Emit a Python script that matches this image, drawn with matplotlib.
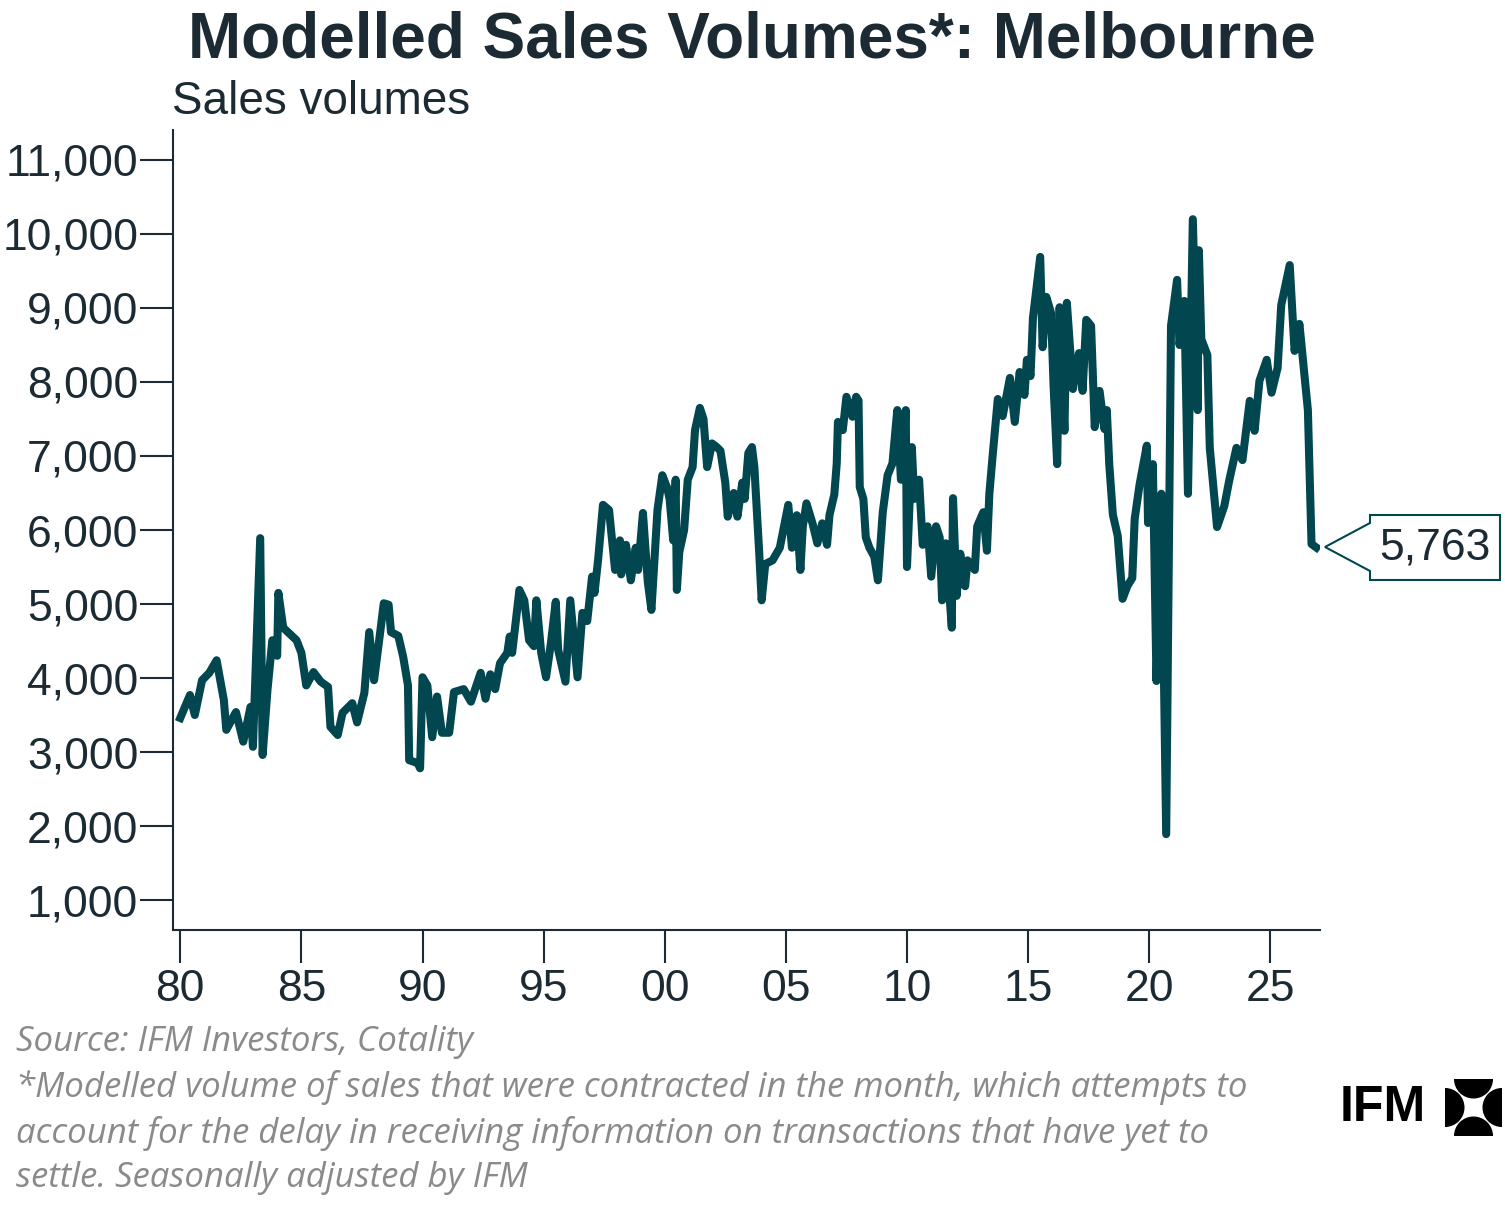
import matplotlib.pyplot as plt
from matplotlib.patches import Polygon, Wedge

# (decimal year, sales volume)
years = [1980.0, 1980.4, 1980.6, 1980.9, 1981.2, 1981.5, 1981.8, 1981.9, 1982.3, 1982.6,
         1982.9, 1983.0, 1983.3, 1983.4, 1983.6, 1983.8, 1984.0, 1984.05, 1984.25, 1984.8,
         1985.0, 1985.2, 1985.5, 1985.8, 1986.1, 1986.2, 1986.5, 1986.7, 1987.1, 1987.3,
         1987.6, 1987.8, 1988.0, 1988.3, 1988.4, 1988.6, 1988.7, 1989.0, 1989.2, 1989.4,
         1989.45, 1989.8, 1989.9, 1990.0, 1990.2, 1990.4, 1990.6, 1990.7, 1990.8, 1991.1,
         1991.3, 1991.7, 1992.0, 1992.4, 1992.6, 1992.8, 1993.0, 1993.2, 1993.5, 1993.6,
         1993.7, 1994.0, 1994.2, 1994.4, 1994.6, 1994.7, 1994.9, 1995.1, 1995.3, 1995.5,
         1995.6, 1995.9, 1996.1, 1996.4, 1996.6, 1996.8, 1997.0, 1997.1, 1997.25, 1997.45,
         1997.7, 1997.95, 1998.15, 1998.2, 1998.4, 1998.6, 1998.8, 1998.9, 1999.1, 1999.3,
         1999.45, 1999.7, 1999.9, 2000.1, 2000.2, 2000.35, 2000.45, 2000.5, 2000.6, 2000.8,
         2000.95, 2001.15, 2001.25, 2001.45, 2001.6, 2001.75, 2001.95, 2002.15, 2002.3, 2002.5,
         2002.6, 2002.85, 2003.0, 2003.2, 2003.3, 2003.45, 2003.6, 2003.7, 2003.9, 2004.0,
         2004.15, 2004.45, 2004.75, 2004.95, 2005.1, 2005.25, 2005.45, 2005.6, 2005.7, 2005.85,
         2006.1, 2006.3, 2006.5, 2006.7, 2006.8, 2007.0, 2007.1, 2007.15, 2007.35, 2007.5,
         2007.75, 2007.9, 2008.0, 2008.05, 2008.2, 2008.3, 2008.45, 2008.65, 2008.8, 2009.0,
         2009.2, 2009.4, 2009.6, 2009.75, 2009.95, 2010.0, 2010.2, 2010.3, 2010.5, 2010.65,
         2010.85, 2011.0, 2011.2, 2011.35, 2011.45, 2011.6, 2011.85, 2011.9, 2012.05, 2012.2,
         2012.4, 2012.5, 2012.8, 2012.9, 2013.15, 2013.3, 2013.4, 2013.55, 2013.75, 2013.95,
         2014.25, 2014.45, 2014.65, 2014.85, 2014.95, 2015.1, 2015.2, 2015.5, 2015.6, 2015.75,
         2015.95, 2016.05, 2016.2, 2016.3, 2016.5, 2016.6, 2016.85, 2017.1, 2017.25, 2017.4,
         2017.6, 2017.75, 2017.95, 2018.15, 2018.25, 2018.35, 2018.5, 2018.7, 2018.9, 2019.1,
         2019.3, 2019.4, 2019.6, 2019.9, 2019.95, 2020.15, 2020.3, 2020.5, 2020.7, 2020.9,
         2021.15, 2021.25, 2021.45, 2021.6, 2021.8, 2022.0, 2022.05, 2022.15, 2022.4, 2022.5,
         2022.8, 2023.1, 2023.3, 2023.6, 2023.85, 2024.15, 2024.35, 2024.55, 2024.85, 2025.05,
         2025.3, 2025.45, 2025.8, 2026.0, 2026.2, 2026.55, 2026.7, 2026.9]
sales = [3460, 3770, 3500, 3970, 4070, 4240, 3700, 3300, 3540, 3140,
         3610, 3070, 5890, 2960, 3840, 4510, 4300, 5150, 4680, 4510,
         4340, 3900, 4080, 3950, 3880, 3340, 3230, 3530, 3660, 3400,
         3800, 4620, 3970, 4740, 5010, 4990, 4620, 4570, 4290, 3900,
         2890, 2850, 2780, 4010, 3900, 3200, 3750, 3500, 3260, 3260,
         3810, 3850, 3680, 4070, 3720, 4050, 3850, 4200, 4340, 4560,
         4340, 5190, 5050, 4510, 4430, 5050, 4340, 4010, 4470, 5030,
         4380, 3950, 5050, 4010, 4880, 4770, 5370, 5150, 5600, 6340,
         6270, 5460, 5860, 5400, 5800, 5320, 5760, 5460, 6230, 5300,
         4920, 6270, 6740, 6570, 6420, 5860, 6680, 5190, 5700, 6000,
         6680, 6850, 7350, 7650, 7500, 6850, 7170, 7120, 7070, 6640,
         6180, 6500, 6180, 6640, 6420, 7040, 7120, 6850, 5690, 5050,
         5540, 5590, 5760, 6090, 6340, 5760, 6200, 5460, 6050, 6360,
         6090, 5820, 6090, 5800, 6200, 6480, 6900, 7460, 7350, 7800,
         7530, 7800, 7750, 6580, 6420, 5900, 5760, 5640, 5320, 6240,
         6740, 6900, 7620, 6680, 7620, 5500, 7120, 6420, 6680, 5800,
         6050, 5370, 6050, 5900, 5050, 5820, 4680, 6430, 5110, 5680,
         5240, 5590, 5460, 6050, 6240, 5720, 6490, 7055, 7770, 7540,
         8055, 7460, 8135, 7825, 8300, 8080, 8865, 9690, 8470, 9150,
         8930, 7960, 6890, 9010, 7340, 9070, 7905, 8390, 7880, 8840,
         8760, 7390, 7880, 7365, 7620, 6890, 6205, 5920, 5070, 5245,
         5350, 6150, 6610, 7140, 6095, 6890, 3960, 6490, 1890, 8760,
         9380, 8500, 9095, 6490, 10200, 7620, 9780, 8580, 8365, 7110,
         6040, 6325, 6665, 7110, 6945, 7745, 7340, 8015, 8300, 7855,
         8190, 9040, 9580, 8420, 8785, 7620, 5810, 5763]
x_ticks = [1980, 1985, 1990, 1995, 2000, 2005, 2010, 2015, 2020, 2025]
x_labels = ["80", "85", "90", "95", "00", "05", "10", "15", "20", "25"]
y_ticks = list(range(1000, 11001, 1000))

LINE = "#02464f"
TEXT = "#1c2b33"

plt.rcParams["font.family"] = ["Liberation Sans", "DejaVu Sans"]
fig = plt.figure(figsize=(15.05, 12.14), dpi=100)
W, H = 1505, 1214
ax = fig.add_axes([173 / W, 1 - 930 / H, (1320 - 173) / W, (930 - 130) / H])

ax.plot(years, sales, color=LINE, lw=5.8, solid_joinstyle="round")
ax.set_xlim(1979.7, 2027.05)
ax.set_ylim(595, 11405)
ax.set_xticks(x_ticks, x_labels)
ax.set_yticks(y_ticks, [f"{v:,}" for v in y_ticks])
for s in ("top", "right"):
    ax.spines[s].set_visible(False)
for s in ("left", "bottom"):
    ax.spines[s].set_color(TEXT)
    ax.spines[s].set_linewidth(1.5)
ax.tick_params(axis="both", colors=TEXT, labelsize=32, width=1.5, length=24)
ax.tick_params(axis="y", pad=1)
ax.tick_params(axis="x", pad=4)

fig.text(752 / W, 1 - 40 / H, "Modelled Sales Volumes*: Melbourne", ha="center", va="center",
         fontsize=46, fontweight="bold", color=TEXT)
fig.text(172 / W, 1 - 102 / H, "Sales volumes", ha="left", va="center", fontsize=33, color=TEXT)

# callout for latest value
pts = [(1325, 547), (1370, 523), (1370, 515), (1500, 515), (1500, 580), (1370, 580), (1370, 571)]
fig.patches.append(Polygon([(px / W, 1 - py / H) for px, py in pts], closed=True,
                           transform=fig.transFigure, facecolor="white", edgecolor=LINE, lw=1.5))
fig.text(1435 / W, 1 - 548 / H, f"{sales[-1]:,}", ha="center", va="center", fontsize=32, color=TEXT)

notes = ("Source: IFM Investors, Cotality\n"
         "*Modelled volume of sales that were contracted in the month, which attempts to\n"
         "account for the delay in receiving information on transactions that have yet to\n"
         "settle. Seasonally adjusted by IFM")
fig.text(16 / W, 1 - 1025 / H, notes, ha="left", va="top", fontsize=25, style="italic",
         color="#8a8a8a", linespacing=1.4, family=["Open Sans", "DejaVu Sans"])

# logo
fig.text(1340 / W, 1 - 1108 / H, "IFM", ha="left", va="center", fontsize=36,
         fontweight="bold", color="black")
lax = fig.add_axes([1445 / W, 1 - 1136 / H, 57 / W, 57 / H])
lax.set_xlim(0, 1)
lax.set_ylim(0, 1)
lax.axis("off")
for cx, cy, a1, a2 in [(0, 0.5, -90, 90), (1, 0.5, 90, 270), (0.5, 1, 180, 360), (0.5, 0, 0, 180)]:
    lax.add_patch(Wedge((cx, cy), 0.33, a1, a2, color="black"))

fig.savefig("out.png", dpi=100)
